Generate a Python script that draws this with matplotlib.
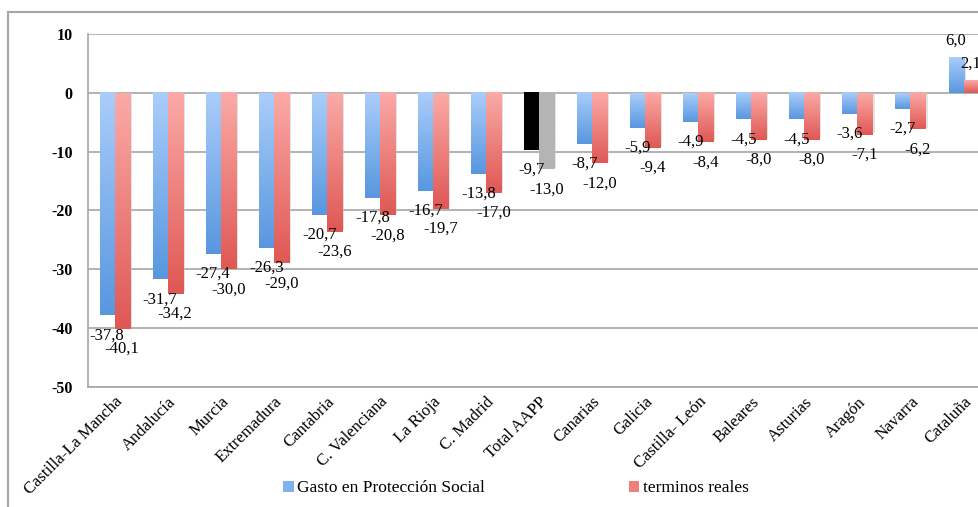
import numpy as np
import matplotlib
matplotlib.use('Agg')
import matplotlib.pyplot as plt
from matplotlib.colors import LinearSegmentedColormap
from matplotlib.patches import Patch
from matplotlib.lines import Line2D

# datos
regiones = ['Castilla-La Mancha', 'Andalucía', 'Murcia', 'Extremadura', 'Cantabria',
            'C. Valenciana', 'La Rioja', 'C. Madrid', 'Total AAPP', 'Canarias', 'Galicia',
            'Castilla- León', 'Baleares', 'Asturias', 'Aragón', 'Navarra', 'Cataluña']
gasto = [-37.8, -31.7, -27.4, -26.3, -20.7, -17.8, -16.7, -13.8, -9.7, -8.7, -5.9,
         -4.9, -4.5, -4.5, -3.6, -2.7, 6.0]
reales = [-40.1, -34.2, -30.0, -29.0, -23.6, -20.8, -19.7, -17.0, -13.0, -12.0, -9.4,
          -8.4, -8.0, -8.0, -7.1, -6.2, 2.1]
y_ticks = [10, 0, -10, -20, -30, -40, -50]

serif = 'Liberation Serif'

azul = LinearSegmentedColormap.from_list('azul', ['#aacdfb', '#5897df'])
rojo = LinearSegmentedColormap.from_list('rojo', ['#fbaaa7', '#df5854'])
negro = LinearSegmentedColormap.from_list('negro', ['#000000', '#000000'])
gris = LinearSegmentedColormap.from_list('gris', ['#b4b4b4', '#b4b4b4'])
grad = np.linspace(0, 1, 100).reshape(-1, 1)

fig = plt.figure(figsize=(9.79, 5.07), dpi=100)
ax = fig.add_axes([0.0899, 0.2367, 0.9214, 0.6963])

x = np.arange(len(regiones))
w = 0.283


def barras(xs, vals, cmaps):
    bars = ax.bar(xs, vals, w, color='none', edgecolor='none', zorder=3)
    for b, cm in zip(bars, cmaps):
        x0, x1 = b.get_x(), b.get_x() + b.get_width()
        y0, y1 = sorted([0, b.get_height()])
        # sombra
        ax.bar(b.get_x() + b.get_width() / 2 + 0.04, b.get_height() - 0.3 * np.sign(b.get_height()),
               w, color='#c8c8c8', alpha=0.5, zorder=2)
        ax.imshow(grad, cmap=cm, aspect='auto', extent=[x0, x1, y0, y1],
                  origin='upper', zorder=3, interpolation='bilinear')
    return bars


cm_g = [negro if r == 'Total AAPP' else azul for r in regiones]
cm_r = [gris if r == 'Total AAPP' else rojo for r in regiones]
barras(x - w / 2, gasto, cm_g)
barras(x + w / 2, reales, cm_r)

# etiquetas de valores
for i in range(len(regiones)):
    for dx, v in [(-w / 2, gasto[i]), (w / 2, reales[i])]:
        txt = f'{v:.1f}'.replace('.', ',')
        if v < 0:
            ax.text(x[i] + dx, v - 3.4, txt, ha='center', va='center', fontsize=12,
                    family=serif, zorder=5)
        else:
            ax.text(x[i] + dx, v + 2.9, txt, ha='center', va='center', fontsize=12,
                    family=serif, zorder=5)

ax.set_xlim(-0.5, len(regiones) - 0.5)
ax.set_ylim(-50, 10)
ax.set_yticks(y_ticks)
ax.set_yticklabels([str(t) for t in y_ticks], family=serif, fontsize=11.5, fontweight='bold')
ax.set_xticks(x)
ax.set_xticklabels(regiones, rotation=45, ha='right', rotation_mode='anchor',
                   family=serif, fontsize=12)
ax.tick_params(axis='both', length=0)
ax.tick_params(axis='y', pad=11)
ax.tick_params(axis='x', pad=5)
ax.grid(axis='y', color='#a6a6a6', lw=1.2, zorder=0)
ax.set_axisbelow(True)
for s in ['top', 'right']:
    ax.spines[s].set_visible(False)
ax.spines['left'].set_color('#a6a6a6')
ax.spines['bottom'].set_color('#a6a6a6')
ax.spines['left'].set_linewidth(1.2)
ax.spines['bottom'].set_linewidth(1.2)

# marco exterior
fig.add_artist(Line2D([8 / 979, 8 / 979], [0, 1 - 12 / 507], transform=fig.transFigure,
                      color='#a6a6a6', lw=1.5))
fig.add_artist(Line2D([8 / 979, 1], [1 - 12 / 507, 1 - 12 / 507], transform=fig.transFigure,
                      color='#a6a6a6', lw=1.5))

handles = [Patch(facecolor='#7fb3ee', edgecolor='none'),
           Patch(facecolor='#ee7f7c', edgecolor='none')]
fig.legend(handles, ['Gasto en Protección Social', 'terminos reales'], ncol=2,
           loc='center', bbox_to_anchor=(0.527, 0.037), frameon=False,
           prop={'family': serif, 'size': 12.5},
           handlelength=0.6, handleheight=0.6, handletextpad=0.2, columnspacing=8.3)

fig.savefig('out.png', dpi=100)
